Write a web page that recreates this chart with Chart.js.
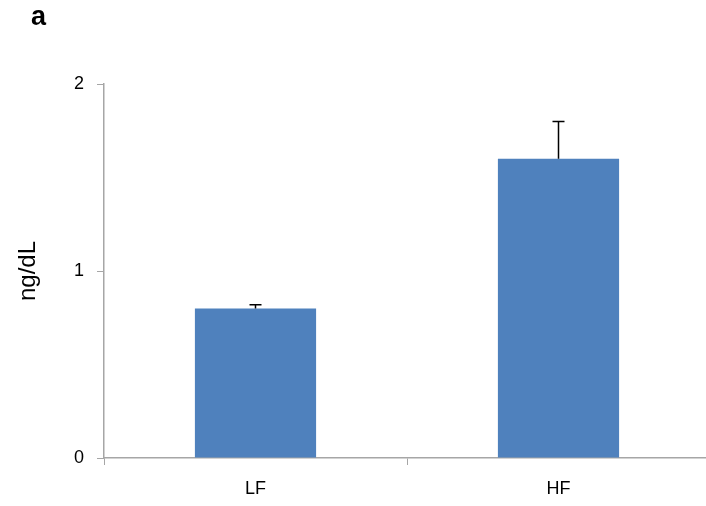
<!DOCTYPE html>
<html>
<head>
<meta charset="utf-8">
<script src="https://cdn.jsdelivr.net/npm/chart.js@4.4.0/dist/chart.umd.min.js"></script>
<style>
  html, body { margin: 0; padding: 0; background: #fff; }
  canvas { display: block; }
</style>
</head>
<body>
<canvas id="chart" width="706" height="506"></canvas>
<script>
const categories = ['LF', 'HF'];
const values = [0.8, 1.6];
const errors = [0.02, 0.2];
const yTicks = [0, 1, 2];
const yLabel = 'ng/dL';
const panelLabel = 'a';

// upward-only error bars (T shape)
const errorBarPlugin = {
    id: 'errorBars',
    afterDatasetsDraw(chart) {
        const ctx = chart.ctx;
        const yScale = chart.scales.y;
        const meta = chart.getDatasetMeta(0);
        ctx.save();
        ctx.strokeStyle = '#000';
        ctx.lineWidth = 1.5;
        meta.data.forEach((bar, i) => {
            const top = yScale.getPixelForValue(values[i] + errors[i]);
            ctx.beginPath();
            ctx.moveTo(bar.x, bar.y);
            ctx.lineTo(bar.x, top);
            ctx.moveTo(bar.x - 6, top);
            ctx.lineTo(bar.x + 6, top);
            ctx.stroke();
        });
        ctx.restore();
    }
};

// the original plot area runs a few pixels past the right edge
const extendRightPlugin = {
    id: 'extendRight',
    afterLayout(chart) {
        const x = chart.scales.x;
        x.right += 4;
        x.width += 4;
        chart.chartArea.right += 4;
        chart.chartArea.width += 4;
        x.configure();
    }
};

const panelLabelPlugin = {
    id: 'panelLabel',
    afterDraw(chart) {
        const ctx = chart.ctx;
        ctx.save();
        ctx.fillStyle = '#000';
        ctx.font = 'bold 27px "Liberation Sans", Arial, sans-serif';
        ctx.textBaseline = 'alphabetic';
        ctx.fillText(panelLabel, 31, 25);
        ctx.restore();
    }
};

new Chart(document.getElementById('chart').getContext('2d'), {
    type: 'bar',
    data: {
        labels: categories,
        datasets: [{
            data: values,
            backgroundColor: '#4f81bd',
            borderWidth: 0,
            barPercentage: 0.4,
            categoryPercentage: 1.0
        }]
    },
    options: {
        responsive: false,
        animation: false,
        layout: {
            padding: { top: 84, right: 0, left: 0, bottom: 0 }
        },
        plugins: {
            legend: { display: false },
            tooltip: { enabled: false }
        },
        scales: {
            x: {
                grid: {
                    offset: true,
                    drawOnChartArea: false,
                    tickLength: 7,
                    color: '#a6a6a6'
                },
                border: { color: '#a6a6a6', width: 1.5 },
                ticks: {
                    color: '#000',
                    padding: 13,
                    font: { size: 18, family: '"Liberation Sans", Arial, sans-serif' }
                },
                afterFit(scale) { scale.height = 48; }
            },
            y: {
                min: yTicks[0],
                max: yTicks[yTicks.length - 1],
                grid: {
                    drawOnChartArea: false,
                    tickLength: 7,
                    color: '#a6a6a6'
                },
                border: { color: '#a6a6a6', width: 1.5 },
                afterBuildTicks(scale) {
                    scale.ticks = yTicks.map(v => ({ value: v }));
                },
                ticks: {
                    color: '#000',
                    padding: 13,
                    font: { size: 18, family: '"Liberation Sans", Arial, sans-serif' }
                },
                title: {
                    display: true,
                    text: yLabel,
                    color: '#000',
                    padding: { top: 14, bottom: 0 },
                    font: { size: 24, family: '"Liberation Sans", Arial, sans-serif' }
                },
                afterFit(scale) { scale.width = 104; }
            }
        }
    },
    plugins: [extendRightPlugin, errorBarPlugin, panelLabelPlugin]
});
</script>
</body>
</html>
